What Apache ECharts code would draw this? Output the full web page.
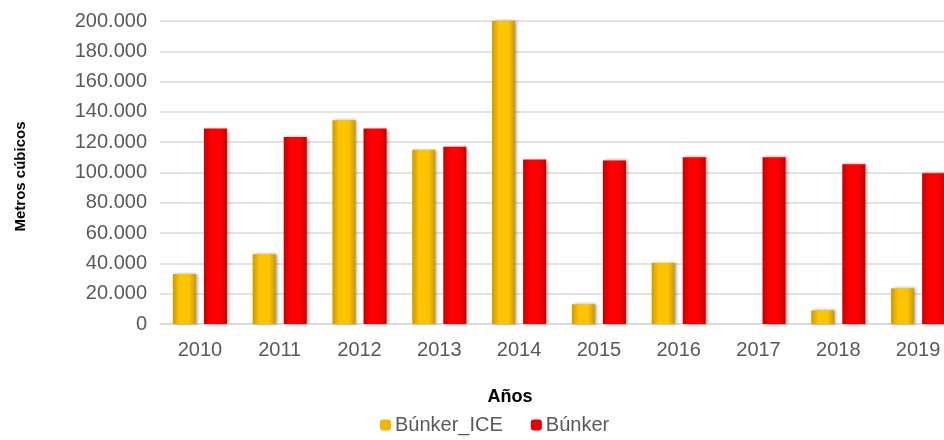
<!DOCTYPE html>
<html>
<head>
<meta charset="utf-8">
<script src="https://cdn.jsdelivr.net/npm/echarts@6/dist/echarts.min.js"></script>
<style>
  html, body { margin: 0; padding: 0; background: #fff; }
  #chart { width: 944px; height: 440px; }
</style>
</head>
<body>
<div id="chart"></div>
<script>
const years = ["2010", "2011", "2012", "2013", "2014", "2015", "2016", "2017", "2018", "2019"];
const bunkerIce = [33000, 46000, 134500, 115000, 200000, 13000, 40500, 0, 9000, 23500];
const bunker = [129000, 123500, 129000, 117000, 108500, 108000, 110000, 110000, 105500, 99500];

const fmt = v => String(v).replace(/\B(?=(\d{3})+(?!\d))/g, ".");

function barGrad(edge, mid) {
  return new echarts.graphic.LinearGradient(0, 0, 1, 0, [
    { offset: 0, color: edge },
    { offset: 0.3, color: mid },
    { offset: 0.7, color: mid },
    { offset: 1, color: edge }
  ]);
}

const chart = echarts.init(document.getElementById("chart"));
chart.setOption({
  animation: false,
  textStyle: { fontFamily: "Liberation Sans, Arial, sans-serif" },
  // the plot runs past the right edge in the reference
  grid: { left: 160, top: 21, width: 798, height: 303, outerBoundsMode: "none" },
  legend: {
    top: 410,
    left: 375,
    itemWidth: 11,
    itemHeight: 11,
    itemGap: 28,
    textStyle: { fontSize: 20, color: "#595959", padding: [0, 0, 0, -1] },
    data: [
      { name: "Búnker_ICE", itemStyle: { color: "#f2b800" } },
      { name: "Búnker", itemStyle: { color: "#e60000" } }
    ]
  },
  xAxis: {
    type: "category",
    data: years,
    name: "Años",
    nameLocation: "middle",
    nameGap: 64,
    // shifted left: the title sits over the visible part, not the grid middle
    nameTextStyle: { fontSize: 18, fontWeight: "bold", color: "#000", padding: [0, 98, 0, 0] },
    axisLine: { lineStyle: { color: "#d9d9d9", width: 1.5 } },
    axisTick: { show: false },
    axisLabel: { fontSize: 20, color: "#595959", margin: 16 }
  },
  yAxis: {
    type: "value",
    min: 0,
    max: 200000,
    interval: 20000,
    name: "Metros cúbicos",
    nameLocation: "middle",
    nameGap: 132,
    nameRotate: 90,
    nameTextStyle: { fontSize: 15, fontWeight: "bold", color: "#000", padding: [0, 8, 0, 0] },
    axisLine: { show: false },
    axisTick: { show: false },
    splitLine: { lineStyle: { color: "#d9d9d9", width: 1.5 } },
    axisLabel: { fontSize: 20, color: "#595959", margin: 13, formatter: fmt }
  },
  series: [
    {
      name: "Búnker_ICE",
      type: "bar",
      data: bunkerIce,
      barWidth: 23,
      barGap: "35%",
      itemStyle: {
        color: barGrad("#c99a00", "#ffc400"),
        shadowColor: "rgba(0,0,0,0.35)",
        shadowBlur: 3,
        shadowOffsetX: 2
      }
    },
    {
      name: "Búnker",
      type: "bar",
      data: bunker,
      barWidth: 23,
      itemStyle: {
        color: barGrad("#c40000", "#ff0000"),
        shadowColor: "rgba(0,0,0,0.35)",
        shadowBlur: 3,
        shadowOffsetX: 2
      }
    }
  ]
});
</script>
</body>
</html>
